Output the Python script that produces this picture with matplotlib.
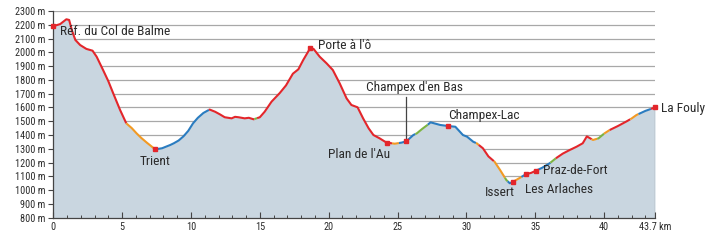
import numpy as np
import matplotlib
matplotlib.use("Agg")
import matplotlib.pyplot as plt
from matplotlib import font_manager

# ---------------- data ----------------
dist_km = [0.0, 0.5, 0.95, 1.15, 1.35, 1.6, 1.95, 2.4, 2.85, 3.15, 3.6, 4.0, 4.35, 4.85,
           5.3, 5.7, 6.05, 6.4, 6.8, 7.4, 7.9, 8.5, 8.75, 9.1, 9.45, 9.8, 10.15, 10.5,
           10.9, 11.35, 11.75, 12.1, 12.45, 12.95, 13.2, 13.45, 13.9, 14.2, 14.55, 15.0,
           15.35, 15.85, 16.45, 16.9, 17.4, 17.8, 18.15, 18.65, 18.9, 19.35, 19.85, 20.3,
           20.8, 21.3, 21.65, 22.1, 22.5, 22.9, 23.25, 23.7, 24.2, 24.8, 25.3, 25.65,
           26.15, 26.4, 26.8, 27.2, 27.4, 28.1, 28.7, 29.2, 29.75, 30.05, 30.5, 30.75,
           31.2, 31.6, 32.05, 32.45, 32.9, 33.15, 33.4, 33.9, 34.35, 34.7, 35.05, 35.5,
           36.05, 36.5, 37.0, 37.5, 38.0, 38.45, 38.75, 39.2, 39.6, 40.0, 40.4, 41.0,
           41.6, 42.0, 42.35, 43.0, 43.7]
elev_m = [2190, 2205, 2240, 2235, 2160, 2090, 2053, 2025, 2012, 1968, 1875, 1790, 1703, 1582,
          1485, 1450, 1412, 1378, 1344, 1296, 1304, 1328, 1340, 1360, 1390, 1430, 1485, 1525,
          1560, 1585, 1569, 1550, 1529, 1521, 1532, 1529, 1521, 1525, 1514, 1529,
          1569, 1642, 1705, 1760, 1845, 1877, 1944, 2029, 2025, 1968, 1920, 1872,
          1775, 1666, 1618, 1601, 1521, 1449, 1400, 1376, 1345, 1337, 1345, 1355,
          1400, 1412, 1445, 1475, 1492, 1473, 1465, 1460, 1400, 1388, 1351, 1340,
          1304, 1245, 1206, 1146, 1074, 1050, 1061, 1090, 1117, 1125, 1141, 1162,
          1195, 1231, 1265, 1291, 1315, 1340, 1390, 1364, 1376, 1410, 1436, 1465,
          1497, 1520, 1545, 1575, 1600]

# path colour segments: start km of each segment and its colour
seg_start_km = [0.0, 5.3, 7.4, 11.3, 14.6, 14.8, 24.6, 25.1, 26.3, 27.2, 30.7, 30.9, 32.0,
                32.8, 33.0, 33.4, 34.0, 34.4, 35.1, 36.1, 36.5, 39.1, 39.5, 40.0, 40.4,
                41.9, 42.5, 43.4]
seg_kind = ["r", "o", "b", "r", "g", "r", "o", "b", "g", "b", "o", "r", "o",
            "g", "b", "o", "b", "r", "b", "g", "r", "o", "g", "o", "r",
            "o", "b", "r"]

# waypoints
wp_km = [0.0, 7.4, 18.65, 24.2, 25.65, 28.7, 33.4, 34.35, 35.05, 43.7]
wp_elev = [2190, 1296, 2029, 1345, 1355, 1465, 1061, 1117, 1141, 1600]

labels = ["Réf. du Col de Balme", "Trient", "Porte à l'ô", "Plan de l'Au",
          "Champex d'en Bas", "Champex-Lac", "Issert", "Les Arlaches",
          "Praz-de-Fort", "La Fouly"]
label_km = [0.5, 7.4, 19.2, 22.2, 26.25, 28.7, 32.4, 34.25, 35.6, 44.1]
label_elev = [2148, 1206, 2053, 1262, 1748, 1545, 984, 1008, 1141, 1590]
label_ha = ["left", "center", "left", "center", "center", "left", "center", "left",
            "left", "left"]

y_ticks = list(range(800, 2301, 100))
x_major = [0, 5, 10, 15, 20, 25, 30, 35, 40, 43.7]
x_major_labels = ["0", "5", "10", "15", "20", "25", "30", "35", "40", "43.7 km"]

# ---------------- style ----------------
available = {f.name for f in font_manager.fontManager.ttflist}
narrow = None
for cand in ["Liberation Sans Narrow", "Roboto Condensed", "Open Sans Condensed",
             "DejaVu Sans Condensed"]:
    if cand in available:
        narrow = cand
        break
fam = [narrow, "DejaVu Sans"] if narrow else ["DejaVu Sans"]
plt.rcParams["font.family"] = fam

colors = {"r": "#e3262b", "o": "#f29a24", "b": "#2a7cc0", "g": "#7cb342"}
fill_col = "#c9d6e0"
grid_col = "#a8a8a8"
text_col = "#2b2b2b"

fig = plt.figure(figsize=(7.12, 2.46), dpi=100)
ax = fig.add_axes([53.3 / 712, 1 - 217.7 / 246, (655 - 53.3) / 712, (217.7 - 11) / 246])
ax.set_xlim(0, 43.7)
ax.set_ylim(800, 2300)

# grid lines
for yv in y_ticks[1:]:
    ax.axhline(yv, color=grid_col, lw=0.9, zorder=0)

x = np.array(dist_km)
y = np.array(elev_m)
ax.fill_between(x, 800, y, color=fill_col, zorder=1, lw=0)
ax.plot([43.7, 43.7], [800, y[-1]], color="#8a8a8a", lw=0.9, zorder=2)

# multicolour profile line
bounds = list(seg_start_km) + [43.7]
for i, kind in enumerate(seg_kind):
    a, b = bounds[i], bounds[i + 1]
    inner = x[(x > a) & (x < b)]
    xs = np.concatenate([[a], inner, [b]])
    ys = np.interp(xs, x, y)
    ax.plot(xs, ys, color=colors[kind], lw=1.5, solid_capstyle="butt", zorder=3)

ax.plot(wp_km, wp_elev, "s", color="#e3262b", ms=3.5, zorder=4, clip_on=False)

# leader for Champex d'en Bas
ax.plot([25.65, 25.65], [1677, 1360], color="#444444", lw=0.9, zorder=2)

for t, kx, ky, ha in zip(labels, label_km, label_elev, label_ha):
    ax.text(kx, ky, t, ha=ha, va="center", fontsize=9.6, color=text_col,
            zorder=5, clip_on=False)

# axes
for s in ["top", "right"]:
    ax.spines[s].set_visible(False)
ax.spines["left"].set_color("#444444")
ax.spines["bottom"].set_color("#444444")
ax.spines["left"].set_linewidth(0.9)
ax.spines["bottom"].set_linewidth(0.9)

ax.set_yticks(y_ticks)
ax.set_yticklabels([f"{v} m" for v in y_ticks])
ax.tick_params(axis="y", direction="out", length=3.5, width=0.8, color="#444444",
               labelsize=7.4, labelcolor=text_col, pad=2)
ax.set_xticks(x_major)
ax.set_xticklabels(x_major_labels)
ax.set_xticks(range(0, 44), minor=True)
ax.tick_params(axis="x", which="major", direction="in", length=4, width=0.8,
               color="#444444", labelsize=7.4, labelcolor=text_col, pad=3)
ax.tick_params(axis="x", which="minor", direction="in", length=2.2, width=0.7,
               color="#444444")

fig.savefig("out.png", dpi=100)
